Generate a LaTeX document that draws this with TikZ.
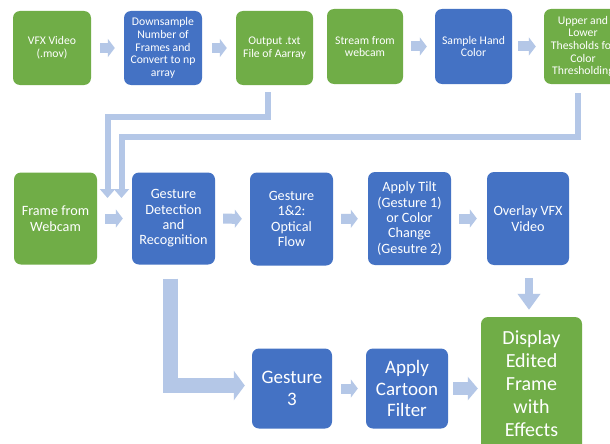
\documentclass[tikz,border=0pt]{standalone}
\usepackage{fontspec}
\setmainfont{Carlito}
\usetikzlibrary{arrows.meta}
\definecolor{gbox}{HTML}{70AD47}
\definecolor{bbox}{HTML}{4472C4}
\definecolor{arr}{HTML}{B4C7E7}
\begin{document}
\begin{tikzpicture}[x=1pt,y=-1pt,
  box/.style={rounded corners=7pt, text=white, align=center, inner sep=0pt, anchor=center},
  gbx/.style={box, fill=gbox},
  bbx/.style={box, fill=bbox},
  fa/.style={font=\fontsize{11.7}{12.6}\selectfont},
  fb/.style={font=\fontsize{14.2}{15.4}\selectfont},
  fc/.style={font=\fontsize{19}{21.5}\selectfont},
  fd/.style={font=\fontsize{20}{23}\selectfont},
  gap/.style={draw=arr, line width=10pt, -{Triangle[width=18pt,length=7pt]}},
  gapbig/.style={draw=arr, line width=13pt, -{Triangle[width=23pt,length=10pt]}},
  link/.style={draw=arr, line width=6pt, -{Triangle[width=15pt,length=9pt]}},
  linkmid/.style={draw=arr, line width=8pt, -{Triangle[width=22pt,length=16pt]}},
  linkbig/.style={draw=arr, line width=15pt, -{Triangle[width=29pt,length=11pt]}},
]
\useasboundingbox (0,0) rectangle (610,444);
\clip (0,0) rectangle (610,444);
\fill[white] (0,0) rectangle (610,444);

% top row
\node[gbx,fa,minimum width=78pt,minimum height=74pt] (vfx) at (52,48) {VFX Video\\(.mov)};
\node[bbx,fa,minimum width=78pt,minimum height=74pt] (down) at (163,48) {Downsample\\Number of\\Frames and\\Convert to np\\array};
\node[gbx,fa,minimum width=77pt,minimum height=74pt] (out) at (274.5,48) {Output .txt\\File of Aarray};
\node[gbx,fa,minimum width=76pt,minimum height=75pt] (stream) at (365,46.5) {Stream from\\webcam};
\node[bbx,fa,minimum width=77pt,minimum height=75pt] (sample) at (473.5,46.5) {Sample Hand\\Color};
\node[gbx,fa,minimum width=78pt,minimum height=75pt] (upper) at (583,46.5) {Upper and\\Lower\\Thesholds for\\Color\\Thresholding};

% middle row
\node[gbx,fb,minimum width=83pt,minimum height=92pt] (frame) at (55.5,218.5) {Frame from\\Webcam};
\node[bbx,fb,minimum width=83pt,minimum height=92pt] (gdr) at (173.5,218.5) {Gesture\\Detection\\and\\Recognition};
\node[bbx,fb,minimum width=83pt,minimum height=93pt] (g12) at (291.5,219) {Gesture\\1\&2:\\Optical\\Flow};
\node[bbx,fb,minimum width=83pt,minimum height=93pt] (tilt) at (409.5,218.5) {Apply Tilt\\(Gesture 1)\\or Color\\Change\\(Gesutre 2)};
\node[bbx,fb,minimum width=82pt,minimum height=93pt] (overlay) at (528,218.5) {Overlay VFX\\Video};

% bottom row
\node[bbx,fc,minimum width=80pt,minimum height=80pt] (g3) at (292,388.5) {Gesture\\3};
\node[bbx,fc,minimum width=82pt,minimum height=80pt] (cartoon) at (407,388.5) {Apply\\Cartoon\\Filter};
\node[gbx,fd,minimum width=101pt,minimum height=134pt] (display) at (531.5,384) {Display\\Edited\\Frame\\with\\Effects};

% short arrows
\draw[gap, shorten <=9pt, shorten >=9pt] (vfx) -- (down);
\draw[gap, shorten <=10pt, shorten >=9pt] (down) -- (out);
\draw[gap, shorten <=8pt, shorten >=8pt] (stream) -- (sample);
\draw[gap, shorten <=6pt, shorten >=8pt] (sample) -- (upper);
\draw[gap, shorten <=8pt, shorten >=9pt] (frame) -- (gdr);
\draw[gap, shorten <=8pt, shorten >=8pt] (gdr) -- (g12);
\draw[gap, shorten <=8pt, shorten >=10pt] (g12) -- (tilt);
\draw[gap, shorten <=8pt, shorten >=10pt] (tilt) -- (overlay);
\draw[gap, shorten <=9pt, shorten >=8pt] (g3) -- (cartoon);
\draw[gapbig, shorten <=5pt, shorten >=3pt] (cartoon.east) -- (cartoon.east -| display.west);

% long connectors
\coordinate (inA) at (107.5,198);
\coordinate (inB) at (121.5,198);
\draw[link] ([xshift=-7pt,yshift=-7pt]out.south) -- ++(0,25) -| (inA);
\draw[link] ([xshift=-5pt,yshift=-9pt]upper.south) -- ++(0,44) -| (inB);
\draw[linkbig, shorten >=7pt] ([xshift=-3.5pt,yshift=-14pt]gdr.south) |- ([yshift=3pt]g3.west);
\draw[linkmid] ([xshift=1pt,yshift=-13pt]overlay.south) -- ([xshift=1pt,yshift=7pt]overlay.south |- display.north);
\end{tikzpicture}
\end{document}
